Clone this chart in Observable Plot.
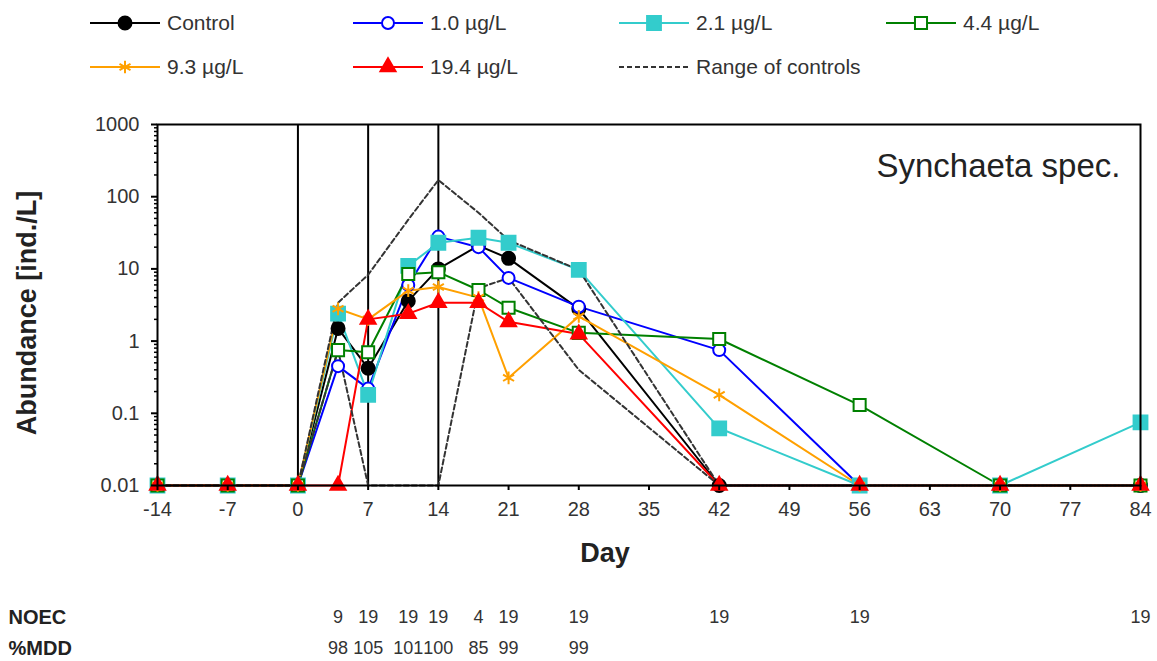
<!DOCTYPE html>
<html><head><meta charset="utf-8">
<script src="https://cdn.jsdelivr.net/npm/d3@7"></script>
<script src="https://cdn.jsdelivr.net/npm/@observablehq/plot@0.6"></script>
<style>
body{margin:0;background:#fff;font-family:"Liberation Sans",Arial,sans-serif;}
#wrap{position:relative;width:1157px;height:661px;overflow:hidden;}
#legend{width:1157px;height:100px;}
</style></head><body><div id="wrap"><div id="legend"></div><div id="chart"></div></div>
<script>
// ---- data ----
const days = [-14, -7, 0, 4, 7, 11, 14, 18, 21, 28, 42, 56, 70, 84];
const seriesNames = ["Control", "1.0 µg/L", "2.1 µg/L", "4.4 µg/L", "9.3 µg/L", "19.4 µg/L"];
const control = [0.01, 0.01, 0.01, 1.5, 0.42, 3.6, 10, 21, 14, 2.8, 0.01, 0.01, 0.01, 0.01];
const conc10  = [0.01, 0.01, 0.01, 0.45, 0.22, 6, 28, 20, 7.5, 3, 0.75, 0.01, 0.01, 0.01];
const conc21  = [0.01, 0.01, 0.01, 2.4, 0.18, 11, 23, 27, 23, 9.7, 0.062, 0.01, 0.01, 0.075];
const conc44  = [0.01, 0.01, 0.01, 0.75, 0.7, 8.5, 9, 5.1, 2.9, 1.3, 1.07, 0.13, 0.01, 0.01];
const conc93  = [0.01, 0.01, 0.01, 2.8, 2, 5, 5.6, 4, 0.31, 2.2, 0.18, 0.01, 0.01, 0.01];
const conc194 = [0.01, 0.01, 0.01, 0.01, 2, 2.4, 3.4, 3.4, 1.85, 1.25, 0.01, 0.01, 0.01, 0.01];
const rangeUpper = [0.01, 0.01, 0.01, 3.4, 8.3, 48, 170, 60, 25, 9.7, 0.01, 0.01, 0.01, 0.01];
const rangeLower = [0.01, 0.01, 0.01, 0.75, 0.01, 0.01, 0.01, 5.4, 7.5, 0.4, 0.01, 0.01, 0.01, 0.01];
const xTicks = [-14, -7, 0, 7, 14, 21, 28, 35, 42, 49, 56, 63, 70, 77, 84];
const yTicks = [0.01, 0.1, 1, 10, 100, 1000];
const applicationDays = [0, 7, 14];
const noecDays = [4, 7, 11, 14, 18, 21, 28, 42, 56, 84];
const noecVals = ["9", "19", "19", "19", "4", "19", "19", "19", "19", "19"];
const mddDays = [4, 7, 11, 14, 18, 21, 28];
const mddVals = ["98", "105", "101", "100", "85", "99", "99"];
const title = "Synchaeta spec.";

// ---- styles ----
const colors = ["#000000", "#0000ff", "#33cccc", "#008000", "#ffa000", "#ff0000"];
const symbols = ["circle", "circle", "square", "square", "asterisk", "triangle"];
const fills = ["#000000", "#ffffff", "#33cccc", "#ffffff", "none", "#ff0000"];
const radii = [6.5, 6, 7.8, 6.8, 6, 5.6];
const valueSets = [control, conc10, conc21, conc44, conc93, conc194];

const rows = seriesNames.flatMap((name, si) =>
  days.map((d, i) => ({day: d, value: valueSets[si][i], series: name, si})));
const upperRows = days.map((d, i) => ({day: d, value: rangeUpper[i]}));
const lowerRows = days.map((d, i) => ({day: d, value: rangeLower[i]}));
const noecRows = noecDays.map((d, i) => ({day: d, text: noecVals[i]}));
const mddRows = mddDays.map((d, i) => ({day: d, text: mddVals[i]}));

const minorTicks = [];
for (let e = -2; e < 3; e++) for (let m = 2; m <= 9; m++) minorTicks.push(+(m * Math.pow(10, e)).toPrecision(3));

const fontFam = "'Liberation Sans', Arial, sans-serif";
const marks = [
  Plot.ruleX(applicationDays, {stroke: "black", strokeWidth: 2}),
  Plot.line(rows, {x: "day", y: "value", z: "series", stroke: "series", strokeWidth: 2}),
  Plot.line(upperRows, {x: "day", y: "value", stroke: "#333", strokeWidth: 2, strokeDasharray: "5,3"}),
  Plot.line(lowerRows, {x: "day", y: "value", stroke: "#333", strokeWidth: 2, strokeDasharray: "5,3"}),
];
seriesNames.forEach((name, si) => {
  marks.push(Plot.dot(rows.filter(r => r.si === si), {
    x: "day", y: "value", symbol: symbols[si], r: radii[si],
    stroke: colors[si], fill: fills[si], strokeWidth: 2
  }));
});
marks.push(
  Plot.frame({stroke: "black", strokeWidth: 2}),
  Plot.axisX(xTicks, {tickSize: 5, tickPadding: 11, fontSize: 20, tickFormat: d => String(d), label: null, stroke: "black", strokeWidth: 2, fill: "#333"}),
  Plot.axisY(yTicks, {tickSize: 6, tickPadding: 12, fontSize: 20, tickFormat: d => String(d), label: null, stroke: "black", strokeWidth: 2, fill: "#333"}),
  Plot.axisY(minorTicks, {tickSize: 3, tickFormat: () => "", label: null, stroke: "black", strokeWidth: 1.5}),
  Plot.text(["Abundance [ind./L]"], {frameAnchor: "left", textAnchor: "middle", lineAnchor: "middle", rotate: -90, dx: -130, dy: 8, fontSize: 27, fontWeight: "bold", fill: "#222"}),
  Plot.text(["Day"], {frameAnchor: "bottom", textAnchor: "middle", lineAnchor: "middle", dx: -44, dy: 68, fontSize: 27, fontWeight: "bold", fill: "#222"}),
  Plot.text([title], {frameAnchor: "top-right", textAnchor: "end", lineAnchor: "middle", dx: -20, dy: 42, fontSize: 33, fill: "#222"}),
  Plot.text(noecRows, {x: "day", y: () => 0.01, text: "text", lineAnchor: "middle", dy: 132, fontSize: 18, fill: "#333"}),
  Plot.text(mddRows, {x: "day", y: () => 0.01, text: "text", lineAnchor: "middle", dy: 163, fontSize: 18, fill: "#333"}),
  Plot.text(["NOEC"], {frameAnchor: "bottom-left", textAnchor: "start", lineAnchor: "middle", dx: -149, dy: 132, fontSize: 20, fontWeight: "bold", fill: "#222"}),
  Plot.text(["%MDD"], {frameAnchor: "bottom-left", textAnchor: "start", lineAnchor: "middle", dx: -149, dy: 163, fontSize: 20, fontWeight: "bold", fill: "#222"})
);

const chart = Plot.plot({
  width: 1157, height: 561,
  marginLeft: 157, marginRight: 17, marginTop: 24, marginBottom: 176,
  style: {fontFamily: fontFam, background: "white", overflow: "visible"},
  x: {domain: [-14, 84], axis: null},
  y: {type: "log", domain: [0.01, 1000], axis: null},
  color: {domain: seriesNames, range: colors},
  marks
});
document.getElementById("chart").append(chart);

// ---- legend ----
const lg = d3.select("#legend").append("svg").attr("width", 1157).attr("height", 100)
  .style("font-family", fontFam);
const legendItems = seriesNames.map((name, si) => ({name, color: colors[si], symbol: symbols[si], fill: fills[si], r: radii[si]}));
legendItems.push({name: "Range of controls", color: "#333", dash: "5,3"});
const colX = [90, 353, 619, 886];
const rowY = [23, 67];
const symMap = {circle: d3.symbolCircle, square: d3.symbolSquare, asterisk: d3.symbolAsterisk, triangle: d3.symbolTriangle};
legendItems.forEach((it, i) => {
  const x0 = colX[i % 4], y = rowY[Math.floor(i / 4)];
  const g = lg.append("g");
  g.append("line").attr("x1", x0).attr("x2", x0 + 70).attr("y1", y).attr("y2", y)
    .attr("stroke", it.color).attr("stroke-width", 2).attr("stroke-dasharray", it.dash || null);
  if (it.symbol) {
    g.append("path").attr("d", d3.symbol(symMap[it.symbol], Math.PI * it.r * it.r)())
      .attr("transform", `translate(${x0 + 35},${y})`)
      .attr("fill", it.fill).attr("stroke", it.color).attr("stroke-width", 2);
  }
  g.append("text").attr("x", x0 + 77).attr("y", y).attr("dy", "0.35em")
    .attr("font-size", 21).attr("fill", "#333").text(it.name);
});
</script></body></html>
